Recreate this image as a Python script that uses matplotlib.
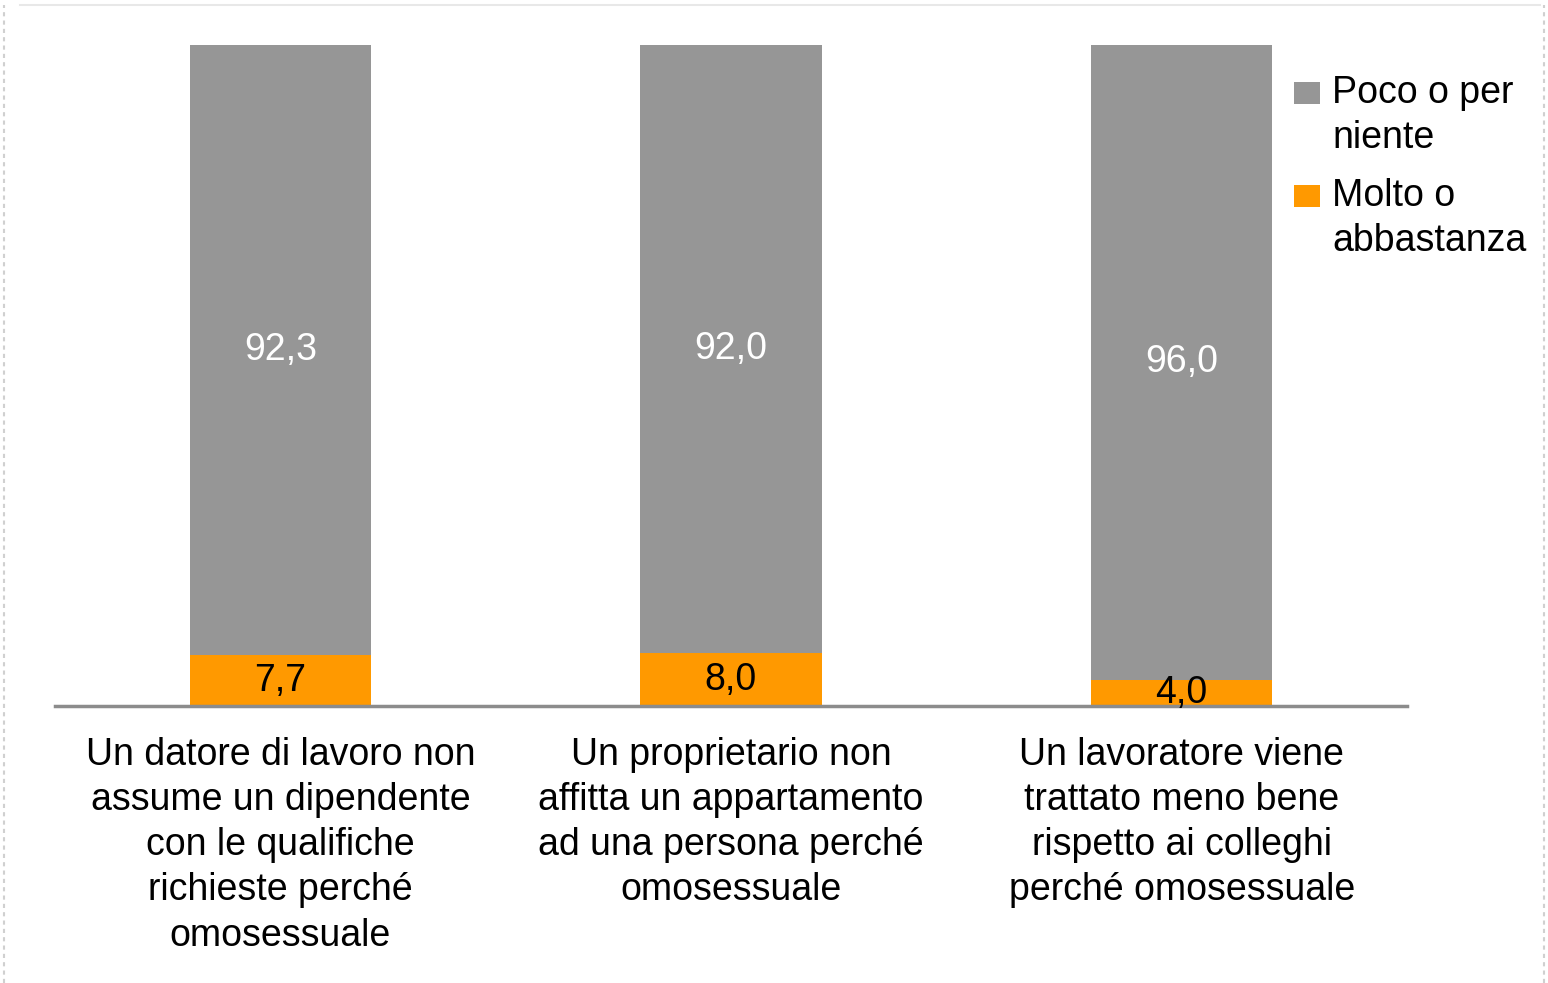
import matplotlib
matplotlib.use("Agg")
import matplotlib.pyplot as plt
from matplotlib.lines import Line2D
from matplotlib.patches import Rectangle

plt.rcParams['font.family'] = ['Liberation Sans', 'DejaVu Sans']

categories = [
    "Un datore di lavoro non\nassume un dipendente\ncon le qualifiche\nrichieste perché\nomosessuale",
    "Un proprietario non\naffitta un appartamento\nad una persona perché\nomosessuale",
    "Un lavoratore viene\ntrattato meno bene\nrispetto ai colleghi\nperché omosessuale",
]
molto = [7.7, 8.0, 4.0]
poco = [92.3, 92.0, 96.0]
series_names = ["Poco o per\nniente", "Molto o\nabbastanza"]

gray = "#969696"
orange = "#FF9900"

fig = plt.figure(figsize=(15.48, 9.83), dpi=100)
W, H = 1548, 983
ax = fig.add_axes([55 / W, 1 - 706 / H, (1407 - 55) / W, (706 - 45) / H])

x = list(range(len(categories)))
bw = 0.402
ax.bar(x, molto, width=bw, color=orange, zorder=2)
ax.bar(x, poco, width=bw, bottom=molto, color=gray, zorder=2)

for i in x:
    ax.text(i, molto[i] / 2, f"{molto[i]:.1f}".replace(".", ","), ha="center", va="center",
            fontsize=27, color="black", zorder=3)
    ax.text(i, molto[i] + poco[i] / 2, f"{poco[i]:.1f}".replace(".", ","), ha="center", va="center",
            fontsize=27, color="white", zorder=3)

ax.set_xlim(-0.5, len(categories) - 0.5)
ax.set_ylim(0, 100)
ax.set_yticks([])
ax.set_xticks(x)
ax.set_xticklabels(categories, fontsize=27)
for t in ax.get_xticklabels():
    t.set_linespacing(1.33)
ax.tick_params(axis="x", length=0, pad=22)
for s in ["top", "right", "left"]:
    ax.spines[s].set_visible(False)
ax.spines["bottom"].set_color("#8c8c8c")
ax.spines["bottom"].set_linewidth(2.5)

# legend (drawn manually so the swatch aligns with the first text line)
legend_colors = [gray, orange]
sw_top = [82, 185]
for name, col, top in zip(series_names, legend_colors, sw_top):
    fig.patches.append(Rectangle((1294 / W, 1 - (top + 22) / H), 26 / W, 22 / H,
                                 transform=fig.transFigure, facecolor=col, edgecolor="none"))
    fig.text(1332 / W, 1 - (top - 7) / H, name, ha="left", va="top", fontsize=27,
             linespacing=1.32, color="black")

# frame decorations
fig.add_artist(Line2D([20 / W, 1540 / W], [1 - 5 / H, 1 - 5 / H], color="#e8e8e8", lw=1.5))
fig.add_artist(Line2D([4 / W, 4 / W], [0, 1 - 5 / H], color="#d0d0d0", lw=1.5, ls=(0, (2, 2))))
fig.add_artist(Line2D([1544 / W, 1544 / W], [0, 1 - 5 / H], color="#d0d0d0", lw=1.5, ls=(0, (2, 2))))

fig.savefig("out.png", dpi=100)
